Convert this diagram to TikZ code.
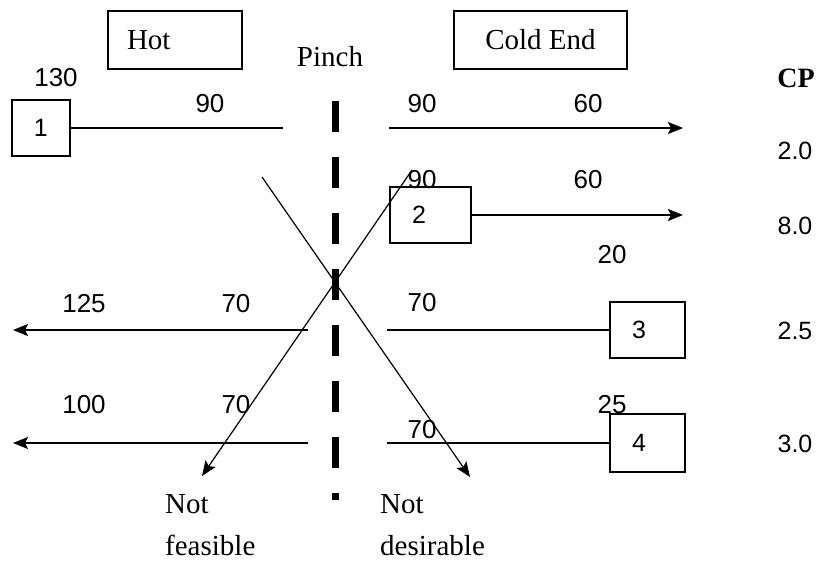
\documentclass[tikz,border=0pt]{standalone}
\usepackage{fontspec}
\setmainfont{Liberation Serif}
\newfontfamily\numfont{Liberation Sans}
\usetikzlibrary{arrows.meta}
\tikzset{
  namebox/.style={draw, line width=1.5pt, font=\fontsize{29}{34}\selectfont, minimum height=58pt},
  numbox/.style={draw, line width=1.5pt, font=\numfont\fontsize{25}{28}\selectfont,
    minimum height=56pt, inner xsep=22pt, inner ysep=0pt, text width=#1, align=left},
  txt/.style={font=\fontsize{29}{42}\selectfont, inner sep=0pt},
  val/.style={font=\numfont\fontsize{26}{29}\selectfont, inner sep=0pt},
  cpval/.style={font=\numfont\fontsize{25}{28}\selectfont, inner sep=0pt},
  cptxt/.style={font=\bfseries\fontsize{28}{32}\selectfont, inner sep=0pt},
  stream/.style={line width=1.5pt},
  cross/.style={line width=1.2pt},
  tip/.style={-{Stealth[length=15pt, width=12pt, inset=3pt]}},
  pinchline/.style={line width=7pt, dash pattern=on 31pt off 25pt}
}

\begin{document}
\begin{tikzpicture}[x=1pt, y=-1pt]
  \useasboundingbox (0,0) rectangle (817,560);

  % Heading boxes.
  \node[namebox, text width=96pt, align=left, inner xsep=19pt] (hot) at (175,40) {Hot};
  \node[namebox, minimum width=173pt] (cold) at (540.5,40) {Cold End};
  \node[txt] (pinch) at (330,57) {Pinch};
  \node[cptxt] (cp) at (796,78) {CP};

  % Pinch line.
  \coordinate (ptop) at (335,101);
  \coordinate (pbot) at (335,500);
  \draw[pinchline] (ptop) -- (pbot);

  % Stream boxes.
  \node[numbox=14pt] (s1) at (41,128) {1};
  \node[numbox=37pt] (s2) at (430.5,215) {2};
  \node[numbox=31pt] (s3) at (647.5,330) {3};
  \node[numbox=31pt, minimum height=58pt] (s4) at (647.5,443) {4};

  % Hot streams.
  \coordinate (h1a) at (283,128);
  \coordinate (h1b) at (389,128);
  \coordinate (h1c) at (683,128);
  \draw[stream] (s1) -- (h1a);
  \draw[stream, tip] (h1b) -- (h1c);
  \coordinate (h2c) at (683,215);
  \draw[stream, tip] (s2) -- (h2c);

  % Cold streams.
  \coordinate (c3a) at (387,330);
  \coordinate (c3b) at (308,330);
  \coordinate (c3c) at (13,330);
  \draw[stream] (s3) -- (c3a);
  \draw[stream, tip] (c3b) -- (c3c);
  \coordinate (c4a) at (387,443);
  \coordinate (c4b) at (308,443);
  \coordinate (c4c) at (13,443);
  \draw[stream] (s4) -- (c4a);
  \draw[stream, tip] (c4b) -- (c4c);

  % Temperatures.
  \node[val] (t130) at (56,78) {130};
  \node[val] (t1l) at (210,104) {90};
  \node[val] (t1r) at (422,104) {90};
  \node[val] (t1e) at (588,104) {60};
  \node[val] (t2s) at (422,180) {90};
  \node[val] (t2e) at (588,180) {60};
  \node[val] (t20) at (612,255) {20};
  \node[val] (t125) at (84,304) {125};
  \node[val] (t3l) at (236,304) {70};
  \node[val] (t3r) at (422,303) {70};
  \node[val] (t100) at (84,405) {100};
  \node[val] (t4l) at (236,405) {70};
  \node[val] (t25) at (612,405) {25};
  \node[val] (t4r) at (422,430) {70};

  % CP values.
  \node[cpval] (cp1) at (795,151) {2.0};
  \node[cpval] (cp2) at (795,226) {8.0};
  \node[cpval] (cp3) at (795,331) {2.5};
  \node[cpval] (cp4) at (795,444) {3.0};

  % Crossing matches.
  \coordinate (fstart) at (412,170);
  \coordinate (fend) at (202,476);
  \coordinate (dstart) at (262,177);
  \coordinate (dend) at (470,477);
  \draw[cross, tip] (fstart) -- (fend);
  \draw[cross, tip] (dstart) -- (dend);
  \node[txt, anchor=north west, align=left] (nf) at (165,494) {Not\\feasible};
  \node[txt, anchor=north west, align=left] (nd) at (380,494) {Not\\desirable};

\end{tikzpicture}
\end{document}
